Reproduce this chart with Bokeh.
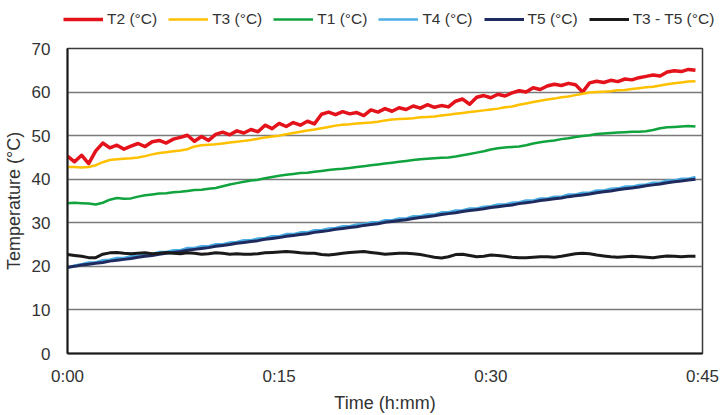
import numpy as np
from bokeh.plotting import figure
from bokeh.layouts import column
from bokeh.models import Legend, LegendItem, FixedTicker, Range1d
from bokeh.embed import file_html
from bokeh.resources import INLINE

# Samples every 0.5 min from 0:00
T2 = [45.3, 44.0, 45.5, 43.6, 46.5, 48.3, 47.2, 47.8, 46.9, 47.6,
      48.2, 47.5, 48.6, 48.9, 48.3, 49.2, 49.6, 50.1, 48.7, 49.8,
      48.9, 50.3, 50.8, 50.2, 51.1, 50.6, 51.4, 50.9, 52.4, 51.6,
      52.8, 52.1, 53.0, 52.4, 53.3, 52.7, 54.9, 55.4, 54.8, 55.5,
      55.0, 55.3, 54.6, 55.9, 55.4, 56.2, 55.6, 56.4, 56.0, 56.8,
      56.3, 57.1, 56.5, 56.9, 56.6, 57.9, 58.4, 57.2, 58.8, 59.2,
      58.7, 59.5, 59.1, 59.8, 60.3, 60.0, 61.0, 60.6, 61.4, 61.8,
      61.5, 62.0, 61.7, 60.0, 62.1, 62.5, 62.2, 62.7, 62.4, 63.0,
      62.8, 63.3, 63.6, 63.9, 63.7, 64.6, 64.9, 64.7, 65.2, 65.0]
T3 = [42.8, 42.8, 42.7, 42.8, 43.2, 43.9, 44.4, 44.6, 44.7, 44.8,
      45.0, 45.3, 45.7, 46.0, 46.2, 46.4, 46.6, 46.9, 47.5, 47.8,
      47.9, 48.0, 48.2, 48.4, 48.6, 48.8, 49.0, 49.3, 49.6, 49.8,
      50.0, 50.3, 50.6, 50.9, 51.2, 51.4, 51.7, 52.0, 52.3, 52.5,
      52.6, 52.8, 52.9, 53.0, 53.2, 53.5, 53.7, 53.8, 53.9, 54.0,
      54.2, 54.3, 54.4, 54.6, 54.8, 55.0, 55.2, 55.4, 55.6, 55.8,
      56.0, 56.2, 56.5, 56.7, 57.1, 57.4, 57.7, 58.0, 58.3, 58.5,
      58.8, 59.0, 59.3, 59.6, 59.9, 60.0, 60.1, 60.2, 60.4, 60.5,
      60.7, 60.9, 61.1, 61.2, 61.5, 61.8, 62.0, 62.2, 62.4, 62.5]
T1 = [34.5, 34.6, 34.5, 34.4, 34.2, 34.6, 35.3, 35.7, 35.5, 35.6,
      36.0, 36.3, 36.5, 36.7, 36.8, 37.0, 37.1, 37.3, 37.5, 37.6,
      37.8, 38.0, 38.4, 38.8, 39.1, 39.4, 39.7, 39.9, 40.2, 40.5,
      40.8, 41.0, 41.2, 41.4, 41.5, 41.7, 41.9, 42.1, 42.3, 42.4,
      42.6, 42.8, 43.0, 43.2, 43.4, 43.6, 43.8, 44.0, 44.2, 44.4,
      44.6, 44.7, 44.8, 44.9, 45.0, 45.2, 45.5, 45.8, 46.1, 46.4,
      46.8, 47.1, 47.3, 47.4, 47.5, 47.8, 48.2, 48.5, 48.7, 48.9,
      49.2, 49.4, 49.7, 49.9, 50.1, 50.4, 50.5, 50.6, 50.7, 50.8,
      50.9, 50.9, 51.0, 51.3, 51.7, 51.9, 52.0, 52.1, 52.2, 52.1]
T4 = [19.6, 20.2, 20.5, 20.9, 20.9, 21.4, 21.5, 21.9, 21.9, 22.3,
      22.4, 22.8, 22.8, 23.3, 23.3, 23.7, 23.7, 24.2, 24.2, 24.6,
      24.6, 25.1, 25.1, 25.5, 25.6, 26.0, 26.0, 26.4, 26.5, 26.9,
      26.9, 27.4, 27.4, 27.8, 27.8, 28.3, 28.3, 28.7, 28.8, 29.2,
      29.2, 29.6, 29.7, 30.1, 30.1, 30.6, 30.6, 31.0, 31.0, 31.5,
      31.5, 31.9, 31.9, 32.4, 32.4, 32.8, 32.9, 33.3, 33.3, 33.7,
      33.8, 34.2, 34.2, 34.6, 34.7, 35.1, 35.1, 35.6, 35.6, 36.0,
      36.0, 36.5, 36.5, 36.9, 36.9, 37.4, 37.4, 37.8, 37.9, 38.3,
      38.3, 38.7, 38.8, 39.2, 39.2, 39.7, 39.7, 40.1, 40.1, 40.5]
T5 = [19.8, 20.0, 20.3, 20.5, 20.7, 20.9, 21.2, 21.4, 21.6, 21.8,
      22.1, 22.3, 22.5, 22.8, 23.0, 23.2, 23.4, 23.7, 23.9, 24.1,
      24.3, 24.6, 24.8, 25.0, 25.3, 25.5, 25.7, 25.9, 26.2, 26.4,
      26.6, 26.9, 27.1, 27.3, 27.5, 27.8, 28.0, 28.2, 28.5, 28.7,
      28.9, 29.1, 29.4, 29.6, 29.8, 30.1, 30.3, 30.5, 30.7, 31.0,
      31.2, 31.4, 31.6, 31.9, 32.1, 32.3, 32.6, 32.8, 33.0, 33.2,
      33.5, 33.7, 33.9, 34.1, 34.4, 34.6, 34.8, 35.1, 35.3, 35.5,
      35.7, 36.0, 36.2, 36.4, 36.6, 36.9, 37.1, 37.3, 37.6, 37.8,
      38.0, 38.2, 38.5, 38.7, 38.9, 39.2, 39.4, 39.6, 39.8, 40.0]
T3_T5 = [22.7, 22.5, 22.3, 22.0, 22.0, 22.8, 23.1, 23.2, 23.0, 22.9,
         23.0, 23.1, 22.9, 23.0, 23.2, 23.0, 22.9, 23.1, 23.0, 22.8,
         22.9, 23.1, 23.0, 22.8, 22.9, 22.8, 22.8, 22.9, 23.1, 23.2,
         23.3, 23.4, 23.3, 23.1, 23.0, 23.0, 22.7, 22.6, 22.8, 23.0,
         23.2, 23.3, 23.4, 23.2, 23.0, 22.8, 22.9, 23.0, 23.0, 22.9,
         22.7, 22.4, 22.1, 21.9, 22.2, 22.7, 22.8, 22.5, 22.2, 22.3,
         22.6, 22.5, 22.3, 22.1, 22.0, 22.0, 22.1, 22.2, 22.2, 22.1,
         22.3, 22.6, 22.9, 23.0, 22.9, 22.6, 22.4, 22.2, 22.1, 22.2,
         22.3, 22.2, 22.1, 22.0, 22.2, 22.4, 22.3, 22.2, 22.3, 22.3]

STEP_MIN = 0.5
x_ticks = [0, 15, 30, 45]
x_tick_labels = ["0:00", "0:15", "0:30", "0:45"]
y_ticks = [0, 10, 20, 30, 40, 50, 60, 70]

series = [
    ("T2 (°C)", T2, "#E3121B", 3.5),
    ("T3 (°C)", T3, "#FFC000", 2.5),
    ("T1 (°C)", T1, "#10A33E", 2.5),
    ("T4 (°C)", T4, "#4AADE3", 2.5),
    ("T5 (°C)", T5, "#1F2A5E", 3),
    ("T3 - T5 (°C)", T3_T5, "#1A1A1A", 3),
]

FONT = "Liberation Sans"
TXT = "#333333"

# main chart
p = figure(width=722, height=379, output_backend="svg", toolbar_location=None,
           x_range=Range1d(0, 45), y_range=Range1d(0, 70),
           min_border_left=66, min_border_right=20, min_border_top=12,
           min_border_bottom=61)
p.frame_align = False

# legend strip above the chart
lg = figure(width=722, height=36, output_backend="svg", toolbar_location=None,
            x_range=Range1d(0, 1), y_range=Range1d(0, 1),
            x_axis_type=None, y_axis_type=None,
            min_border_left=0, min_border_right=0, min_border_top=0,
            min_border_bottom=0)
lg.frame_align = False
lg.grid.visible = False
lg.outline_line_color = None

items = []
for name, vals, color, w in series:
    t = np.arange(len(vals)) * STEP_MIN
    p.line(t, vals, line_color=color, line_width=w, line_join="round")
    # placeholder renderer (no visible data) that only feeds the legend swatch
    dummy = lg.line([np.nan, np.nan], [np.nan, np.nan], line_color=color,
                    line_width=w)
    items.append(LegendItem(label=name, renderers=[dummy]))

p.xaxis.ticker = FixedTicker(ticks=x_ticks)
p.xaxis.major_label_overrides = {k: v for k, v in zip(x_ticks, x_tick_labels)}
p.yaxis.ticker = FixedTicker(ticks=y_ticks)

for ax in (p.xaxis[0], p.yaxis[0]):
    ax.major_tick_out = 0
    ax.major_tick_in = 0
    ax.minor_tick_out = 0
    ax.minor_tick_in = 0
    ax.axis_line_color = "#1A1A1A"
    ax.axis_line_width = 2
    ax.major_label_text_font = FONT
    ax.major_label_text_font_size = "17px"
    ax.major_label_text_color = TXT
    ax.axis_label_text_font = FONT
    ax.axis_label_text_font_size = "18px"
    ax.axis_label_text_font_style = "normal"
    ax.axis_label_text_color = TXT

p.xaxis.axis_label = "Time (h:mm)"
p.yaxis.axis_label = "Temperature (°C)"
p.xaxis.major_label_standoff = 13
p.xaxis.axis_label_standoff = 4
p.yaxis.major_label_standoff = 17
p.yaxis.axis_label_standoff = 5

p.xgrid.grid_line_color = None
p.ygrid.grid_line_color = "#7A7A7A"
p.ygrid.grid_line_width = 1.5

p.outline_line_color = "#3A3A3A"
p.outline_line_width = 1.5

legend = Legend(items=items, orientation="horizontal", location=(63, 7),
                glyph_width=40, glyph_height=20, label_standoff=4, spacing=11,
                padding=0, margin=0, border_line_alpha=0, background_fill_alpha=0,
                label_text_font=FONT, label_text_font_size="15.5px",
                label_text_color=TXT, label_height=20)
lg.add_layout(legend, "center")

layout = column(lg, p, spacing=0)
open("out.html", "w").write(file_html(layout, INLINE))
